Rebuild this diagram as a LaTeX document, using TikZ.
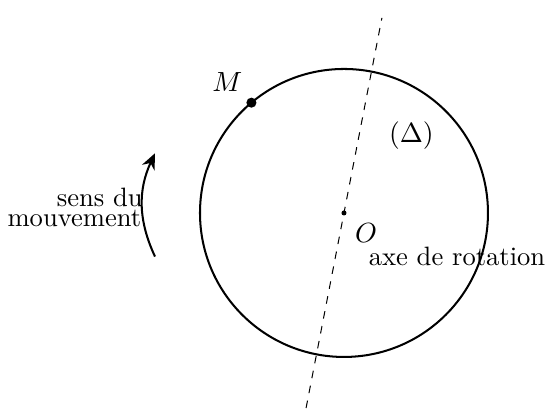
\documentclass[tikz,border=0pt]{standalone}
\usepackage{amsmath}
\usetikzlibrary{positioning,arrows.meta}
\tikzset{
  disque/.style={thick},
  axe/.style={thin,dashed},
  sens/.style={-{Stealth[length=2.2mm,width=1.9mm]},thick},
  point/.style={circle,fill,inner sep=0pt,minimum size=#1},
  lab/.style={inner sep=0pt},
}

\begin{document}
\begin{tikzpicture}[every node/.style={font=\fontsize{10.5}{12.6}\selectfont}]
  \useasboundingbox (-4.778,-2.722) rectangle (2.806,2.958);
  \coordinate (O) at (0,0);
  \draw[disque] (O) circle (2);
  % axe de rotation
  \coordinate (haut) at (79:2.76);
  \coordinate (bas) at (259:2.76);
  \draw[axe] (bas) -- (haut);
  \node[point=1.4mm] (M) at (130:2) {};
  \node[point=0.7mm] (Opt) at (O) {};
  \node[above left=-0.02cm and -0.05cm of M] (lM) {$M$};
  \node[below right=0cm and 0cm of Opt] (lO) {$O$};
  \node (delta) at (0.9375,1.072) {$(\Delta)$};
  \node[lab,anchor=base] (lAxe) at (1.57,-0.73) {axe de rotation};
  % sens du mouvement
  \coordinate (depart) at (-2.625,-0.606);
  \coordinate (fin) at (-2.625,0.829);
  \draw[sens] (depart) to[bend left=25] (fin);
  \node[lab,anchor=base east] (sens1) at (-2.788,0.087) {sens du};
  \node[lab,anchor=base east] (sens2) at (-2.81,-0.19) {mouvement};
\end{tikzpicture}
\end{document}
